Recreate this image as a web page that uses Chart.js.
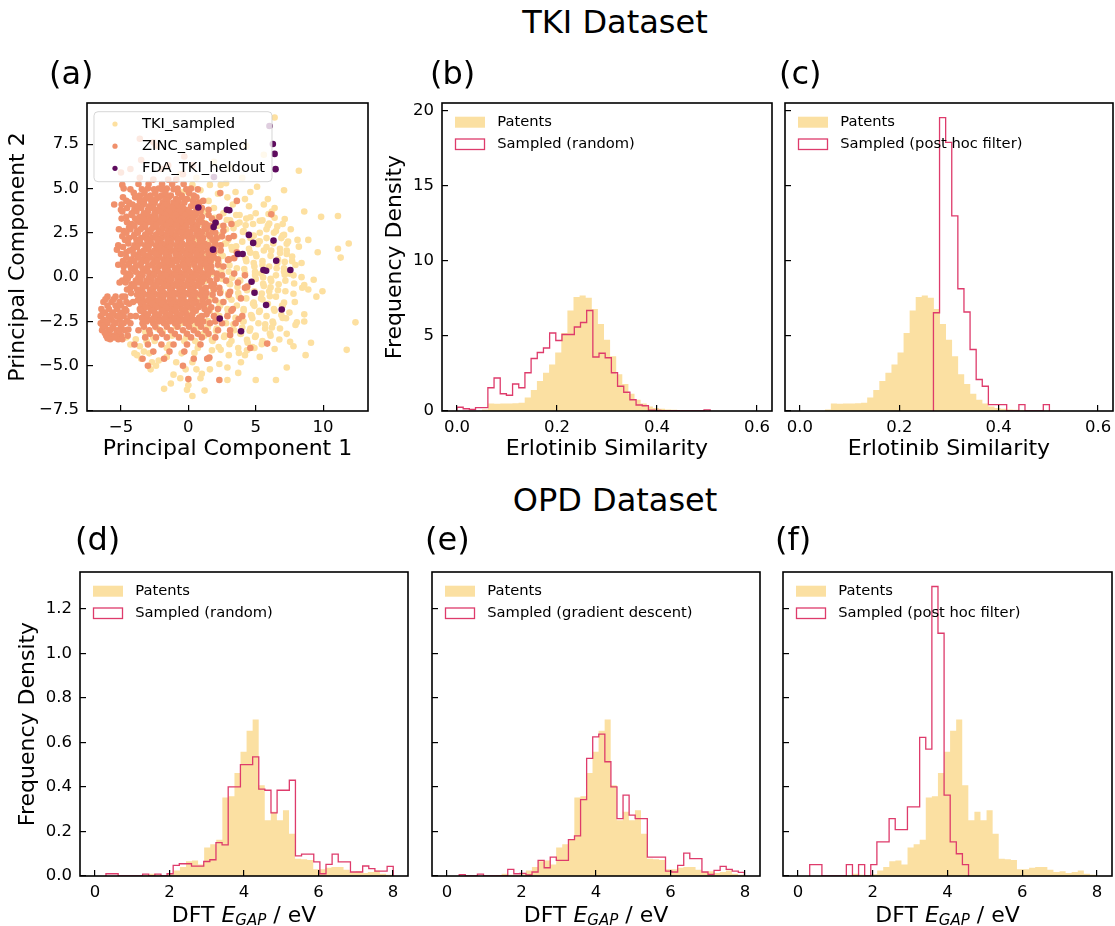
<!DOCTYPE html>
<html><head><meta charset="utf-8">
<script src="https://cdn.jsdelivr.net/npm/chart.js@4.4.1/dist/chart.umd.min.js"></script>
<style>
html,body{margin:0;padding:0;background:#fff;overflow:hidden;width:1115px;height:926px;}
body{position:relative;font-family:'DejaVu Sans',sans-serif;}
canvas{position:absolute;}
.lbl{position:absolute;font-size:32px;line-height:32px;color:#000;white-space:nowrap;z-index:5;}
</style></head><body>
<canvas id="ca"></canvas><canvas id="cb"></canvas><canvas id="cc"></canvas>
<canvas id="cd"></canvas><canvas id="ce"></canvas><canvas id="cf"></canvas>
<div class="lbl" style="left:415px;top:6px;width:400px;text-align:center">TKI Dataset</div>
<div class="lbl" style="left:415px;top:484px;width:400px;text-align:center">OPD Dataset</div>
<div class="lbl" style="left:49px;top:57px">(a)</div>
<div class="lbl" style="left:430px;top:57px">(b)</div>
<div class="lbl" style="left:779px;top:57px">(c)</div>
<div class="lbl" style="left:75px;top:523px">(d)</div>
<div class="lbl" style="left:425px;top:523px">(e)</div>
<div class="lbl" style="left:775px;top:523px">(f)</div>
<script>
// ---------------- DATA ----------------
// Panel (a): PCA scatter
const tkiSampled = [
[0.3,5.2],[1.6,5.2],[2.8,5.3],[5.1,5.1],[-0.4,4.8],[0.9,4.9],[2.2,4.7],[3.5,4.8],[4.6,4.8],[7.1,4.9],
[0.2,4.4],[1.5,4.3],[2.9,4.5],[4.2,4.4],[5.9,4.4],[-0.9,4.0],[0.7,4.0],[1.9,3.9],[3.3,4.1],[4.5,4.0],[5.6,4.1],[6.4,3.9],
[0.1,3.6],[1.3,3.7],[2.6,3.6],[3.8,3.5],[5.0,3.6],[6.2,3.7],[8.6,3.7],[1.8,3.3],[3.1,3.2],[4.3,3.3],[5.5,3.2],[6.4,3.35],[9.85,3.4],[11.1,3.45],
[0.8,3.0],[2.2,2.9],[3.6,3.0],[4.8,3.0],[5.9,2.9],[7.0,3.0],[1.5,2.6],[2.8,2.7],[4.1,2.6],[5.3,2.5],[6.5,2.6],[7.6,2.7],
[0.9,2.3],[2.2,2.2],[3.4,2.3],[4.7,2.3],[5.8,2.2],[7.0,2.35],[8.1,2.1],[8.9,2.1],[1.6,2.0],[2.8,1.9],[4.0,2.0],[5.2,2.0],[6.3,1.9],[7.4,2.0],
[0.5,1.6],[1.9,1.6],[3.2,1.7],[4.5,1.6],[5.6,1.5],[6.8,1.6],[7.3,1.5],[9.6,1.4],[11.1,1.6],[11.9,1.9],
[1.2,1.3],[2.5,1.2],[3.8,1.3],[5.0,1.3],[6.1,1.2],[7.3,1.3],[0.3,0.9],[1.7,0.9],[3.0,1.0],[4.3,0.9],[5.5,0.9],[6.6,0.8],[7.7,0.9],[8.4,0.8],[11.3,1.1],
[1.0,0.6],[2.3,0.6],[3.6,0.5],[4.9,0.6],[6.0,0.6],[7.1,0.5],[0.5,0.2],[1.8,0.2],[3.0,0.3],[4.2,0.2],[5.4,0.2],[6.5,0.1],[7.5,0.2],[7.8,0.1],
[1.2,-0.1],[2.5,-0.1],[3.8,-0.2],[5.0,-0.1],[6.1,-0.1],[7.2,-0.2],[9.3,-0.15],[0.4,-0.5],[1.8,-0.5],[3.1,-0.4],[4.4,-0.5],[5.6,-0.5],[6.7,-0.4],[8.6,-0.45],[8.9,-0.7],
[1.0,-0.8],[2.4,-0.8],[3.7,-0.9],[4.9,-0.8],[6.0,-0.8],[7.2,-0.8],[9.95,-0.8],[0.3,-1.2],[1.7,-1.2],[3.0,-1.1],[4.3,-1.2],[5.4,-1.2],[6.5,-1.1],[7.9,-1.4],[9.5,-1.1],
[1.0,-1.5],[2.3,-1.5],[3.6,-1.6],[4.8,-1.5],[5.9,-1.5],[7.0,-1.6],[0.2,-1.9],[1.6,-1.9],[2.9,-1.8],[4.1,-1.9],[5.3,-1.9],[6.4,-1.9],[7.5,-2.0],
[0.9,-2.2],[2.3,-2.2],[3.5,-2.3],[4.7,-2.2],[5.8,-2.2],[7.0,-2.3],[8.6,-2.1],[-0.5,-2.6],[1.5,-2.6],[2.8,-2.6],[4.1,-2.5],[5.2,-2.6],[6.3,-2.6],[8.05,-2.55],[8.6,-2.5],[12.4,-2.55],
[0.6,-2.9],[2.1,-2.9],[3.4,-3.0],[4.6,-2.9],[5.7,-2.9],[6.8,-2.9],[-1.2,-3.3],[1.2,-3.3],[2.7,-3.3],[3.9,-3.2],[5.0,-3.3],[6.1,-3.3],[7.3,-3.2],
[-2.5,-3.6],[-0.3,-3.6],[1.8,-3.6],[3.2,-3.6],[4.4,-3.7],[5.5,-3.6],[7.55,-3.65],[9.1,-3.7],[-4.0,-4.3],[-1.6,-4.0],[0.7,-4.0],[2.4,-4.1],[3.7,-4.0],[4.9,-4.0],[6.4,-4.05],[7.8,-3.9],
[-3.3,-4.2],[-2.2,-4.7],[1.5,-4.6],[3.0,-4.4],[4.2,-4.4],[5.3,-4.5],[8.7,-4.4],[11.75,-4.1],[-2.7,-4.8],[0.3,-4.8],[2.3,-4.9],[3.9,-4.8],[7.3,-5.1],
[-2.8,-5.2],[-1.1,-5.5],[1.0,-5.45],[2.9,-5.1],[-0.6,-5.7],[3.7,-5.4],[0.9,-5.7],[2.9,-5.8],[5.0,-5.8],[6.5,-5.8],[-1.8,-6.3],[0.0,-6.1],[1.2,-6.4],[-0.1,-6.35],[0.3,-6.7],
[6.4,9.0],[8.2,6.0],[5.6,6.9],[4.3,7.4],[3.1,6.2],[1.9,6.5],[0.6,5.6],[-0.6,5.8],[2.4,5.2],[4.0,5.6],
[-4.6,-3.4],[-3.6,-3.9],[-2.9,-4.3],[-1.9,-3.1],[-0.9,-2.8],[-0.1,-3.2],[-1.4,-3.8],[-0.5,-4.3],[0.5,-3.6],[-2.3,-2.9],[-3.8,-4.4],[-4.3,-3.8],[-3.1,-3.6],
[0.85,3.52],[1.95,3.35],[3.55,3.5],[4.6,3.38],[5.95,3.56],[1.2,3.05],[2.85,3.22],[3.8,3.08],[5.3,3.18],[6.0,3.02],[7.15,3.28],
[0.55,2.7],[1.7,2.9],[3.35,2.75],[4.25,2.92],[5.8,2.7],[6.6,2.86],[1.3,2.52],[2.3,2.36],[4.05,2.55],[4.85,2.34],[6.35,2.5],[7.1,2.38],
[0.45,2.06],[2.1,2.24],[2.95,2.1],[4.6,2.2],[5.3,2.02],[6.9,2.2],[1.05,1.72],[2.7,1.9],[3.55,1.74],[5.15,1.86],[5.8,1.7],[7.3,1.88],[8.2,1.72],
[0.65,1.52],[2.35,1.36],[3.25,1.55],[4.6,1.38],[6.15,1.5],[6.8,1.36],[1.7,1.02],[2.55,1.2],[4.25,1.04],[5.05,1.18],[6.65,1.0],[7.7,1.16],
[0.35,0.7],[2.25,0.84],[3.05,0.66],[4.85,0.8],[5.5,0.68],[7.15,0.86],[7.95,0.68],[1.6,0.48],[2.45,0.3],[4.15,0.46],[4.95,0.3],[6.55,0.5],[7.1,0.32],
[0.7,-0.02],[2.45,0.14],[3.25,-0.04],[4.95,0.12],[5.55,-0.02],[7.15,0.14],[8.4,0.0],[1.25,-0.22],[3.05,-0.38],[3.85,-0.2],[5.55,-0.38],[6.15,-0.22],[7.85,-0.36],
[0.95,-0.58],[1.85,-0.74],[3.65,-0.56],[4.35,-0.74],[6.1,-0.58],[6.65,-0.74],[8.45,-0.6],[1.15,-1.08],[2.95,-0.92],[3.75,-1.1],[5.45,-0.92],[6.05,-1.08],[7.8,-0.94],
[0.7,-1.26],[2.45,-1.44],[3.2,-1.28],[4.85,-1.44],[5.5,-1.26],[7.1,-1.44],[1.55,-1.78],[2.35,-1.62],[4.1,-1.8],[4.9,-1.62],[6.35,-1.8],[6.95,-1.62],
[0.3,-1.96],[2.1,-2.14],[2.95,-1.98],[4.65,-2.14],[5.25,-1.96],[6.9,-2.14],[1.45,-2.48],[2.25,-2.32],[4.05,-2.5],[4.75,-2.32],[6.25,-2.5],[7.25,-2.32],
[0.45,-2.66],[1.45,-2.84],[3.35,-2.66],[4.0,-2.84],[5.7,-2.66],[6.2,-2.84],[7.95,-2.7],[1.15,-3.18],[2.05,-3.02],[3.85,-3.2],[4.55,-3.02],[6.05,-3.18],
[-0.15,-3.36],[1.75,-3.54],[2.65,-3.38],[4.35,-3.54],[4.95,-3.38],[6.75,-3.52],[0.75,-3.78],[2.25,-3.94],[3.05,-3.78],[4.75,-3.94],[5.45,-3.78],
[0.45,-4.28],[1.75,-4.12],[3.75,-4.28],[4.35,-4.12],
[-3.5,-4.6],[-2.4,-5.0],[-1.6,-4.5],[-0.9,-4.8],[-0.2,-5.2],[0.6,-5.2],[1.6,-5.2],[-1.3,-6.0],[-3.9,-3.5],[-3.2,-3.1],[-2.6,-3.4]
];
const zincSampled = [
[-2.6,5.5],[-1.5,5.5],[-0.9,5.5],
[-4.8,5.0],[-3.0,5.0],[-2.2,5.0],[-1.6,5.0],[-0.8,5.0],[0.2,5.0],
[-3.6,4.6],[-2.8,4.6],[-2.0,4.6],[-1.3,4.6],[-0.5,4.6],[0.4,4.6],
[-4.4,4.2],[-3.3,4.2],[-2.5,4.2],[-1.9,4.2],[-1.1,4.2],[-0.3,4.2],[0.8,4.2],
[-5.0,3.8],[-4.0,3.8],[-3.0,3.8],[-2.3,3.8],[-1.6,3.8],[-0.9,3.8],[-0.2,3.8],[0.6,3.8],[1.5,3.8],
[-4.6,3.4],[-3.6,3.4],[-2.8,3.4],[-2.0,3.4],[-1.4,3.4],[-0.7,3.4],[0.0,3.4],[1.0,3.4],[2.3,3.4],
[-4.2,3.0],[-3.3,3.0],[-2.6,3.0],[-1.8,3.0],[-1.1,3.0],[-0.4,3.0],[0.4,3.0],[1.3,3.0],[3.2,3.0],
[-4.8,2.6],[-3.8,2.6],[-3.0,2.6],[-2.2,2.6],[-1.5,2.6],[-0.8,2.6],[-0.1,2.6],[0.8,2.6],[1.8,2.6],[2.6,2.6],
[-4.4,2.2],[-3.5,2.2],[-2.7,2.2],[-2.0,2.2],[-1.2,2.2],[-0.5,2.2],[0.3,2.2],[1.1,2.2],[2.1,2.2],[3.0,2.2],
[-5.2,1.8],[-4.0,1.8],[-3.2,1.8],[-2.4,1.8],[-1.7,1.8],[-0.9,1.8],[-0.1,1.8],[0.7,1.8],[1.5,1.8],[2.4,1.8],
[-4.6,1.4],[-3.6,1.4],[-2.8,1.4],[-2.1,1.4],[-1.4,1.4],[-0.6,1.4],[0.2,1.4],[1.0,1.4],[1.9,1.4],[3.6,1.4],
[-4.2,1.0],[-3.3,1.0],[-2.5,1.0],[-1.8,1.0],[-1.0,1.0],[-0.3,1.0],[0.5,1.0],[1.3,1.0],[2.2,1.0],[3.0,1.0],
[-4.8,0.6],[-3.9,0.6],[-3.0,0.6],[-2.2,0.6],[-1.5,0.6],[-0.7,0.6],[0.0,0.6],[0.9,0.6],[1.7,0.6],[2.6,0.6],
[-4.4,0.2],[-3.5,0.2],[-2.7,0.2],[-1.9,0.2],[-1.1,0.2],[-0.4,0.2],[0.4,0.2],[1.2,0.2],[2.1,0.2],[3.4,0.2],
[-4.9,-0.2],[-3.9,-0.2],[-3.1,-0.2],[-2.3,-0.2],[-1.6,-0.2],[-0.8,-0.2],[0.0,-0.2],[0.8,-0.2],[1.6,-0.2],[2.8,-0.2],
[-4.3,-0.6],[-3.4,-0.6],[-2.6,-0.6],[-1.9,-0.6],[-1.2,-0.6],[-0.4,-0.6],[0.4,-0.6],[1.3,-0.6],[2.3,-0.6],[4.2,-0.6],
[-3.8,-1.0],[-3.0,-1.0],[-2.2,-1.0],[-1.5,-1.0],[-0.7,-1.0],[0.1,-1.0],[0.9,-1.0],[1.8,-1.0],[3.0,-1.0],
[-4.1,-1.4],[-3.3,-1.4],[-2.5,-1.4],[-1.8,-1.4],[-1.0,-1.4],[-0.2,-1.4],[0.6,-1.4],[1.5,-1.4],[2.6,-1.4],
[-3.6,-1.8],[-2.8,-1.8],[-2.0,-1.8],[-1.3,-1.8],[-0.5,-1.8],[0.3,-1.8],[1.2,-1.8],[2.2,-1.8],[3.3,-1.8],
[-3.9,-2.2],[-3.1,-2.2],[-2.3,-2.2],[-1.5,-2.2],[-0.8,-2.2],[0.1,-2.2],[1.0,-2.2],[1.9,-2.2],[2.9,-2.2],[4.0,-2.2],
[-3.4,-2.6],[-2.6,-2.6],[-1.8,-2.6],[-1.0,-2.6],[-0.2,-2.6],[0.7,-2.6],[1.6,-2.6],[2.5,-2.6],[3.5,-2.6],
[-3.7,-3.0],[-2.9,-3.0],[-2.1,-3.0],[-1.3,-3.0],[-0.4,-3.0],[0.4,-3.0],[1.3,-3.0],[2.2,-3.0],[3.1,-3.0],
[-3.2,-3.4],[-2.4,-3.4],[-1.6,-3.4],[-0.7,-3.4],[0.2,-3.4],[1.0,-3.4],[2.0,-3.4],
[-4.0,-3.8],[-3.0,-3.8],[-2.0,-3.8],[-1.1,-3.8],[-0.1,-3.8],[0.9,-3.8],
[-2.6,-4.2],[-1.4,-4.2],[-0.3,-4.2],[-3.4,-4.6],[-1.8,-4.6],[0.4,-4.6],[1.4,-4.6],[-3.0,-5.0],[-0.4,-5.0],
[-3.2,4.4],[-2.4,4.4],[-1.7,4.4],[-0.9,4.4],[-0.1,4.4],
[-3.8,4.0],[-2.9,4.0],[-2.1,4.0],[-1.4,4.0],[-0.6,4.0],[0.2,4.0],
[-4.2,3.6],[-3.3,3.6],[-2.5,3.6],[-1.8,3.6],[-1.1,3.6],[-0.4,3.6],[0.3,3.6],
[-3.8,3.2],[-3.0,3.2],[-2.3,3.2],[-1.5,3.2],[-0.8,3.2],[-0.1,3.2],[0.8,3.2],
[-4.4,2.8],[-3.4,2.8],[-2.6,2.8],[-1.9,2.8],[-1.2,2.8],[-0.5,2.8],[0.3,2.8],[1.2,2.8],
[-4.0,2.4],[-3.2,2.4],[-2.4,2.4],[-1.7,2.4],[-1.0,2.4],[-0.2,2.4],[0.6,2.4],[1.5,2.4],
[-3.7,2.0],[-2.9,2.0],[-2.1,2.0],[-1.4,2.0],[-0.6,2.0],[0.1,2.0],[0.9,2.0],
[-4.1,1.6],[-3.0,1.6],[-2.3,1.6],[-1.6,1.6],[-0.8,1.6],[0.0,1.6],[0.7,1.6],
[-3.8,1.2],[-3.0,1.2],[-2.2,1.2],[-1.6,1.2],[-0.8,1.2],[0.0,1.2],[0.8,1.2],[1.6,1.2],
[-4.4,0.8],[-3.5,0.8],[-2.6,0.8],[-1.8,0.8],[-1.2,0.8],[-0.4,0.8],[0.4,0.8],[1.2,0.8],
[-4.0,0.4],[-3.2,0.4],[-2.4,0.4],[-1.6,0.4],[-0.9,0.4],[-0.1,0.4],[0.7,0.4],[1.5,0.4],
[-4.6,0.0],[-3.7,0.0],[-2.9,0.0],[-2.1,0.0],[-1.3,0.0],[-0.6,0.0],[0.2,0.0],[1.0,0.0],
[-4.2,-0.4],[-3.4,-0.4],[-2.6,-0.4],[-1.8,-0.4],[-1.0,-0.4],[-0.2,-0.4],[0.6,-0.4],[1.9,-0.4],
[-3.6,-0.8],[-2.8,-0.8],[-2.0,-0.8],[-1.3,-0.8],[-0.5,-0.8],[0.3,-0.8],[1.1,-0.8],
[-3.4,-1.2],[-2.6,-1.2],[-1.9,-1.2],[-1.1,-1.2],[-0.4,-1.2],[0.4,-1.2],
[-2.9,-1.6],[-2.2,-1.6],[-1.5,-1.6],[-0.8,-1.6],[0.0,-1.6],[0.9,-1.6],
[-3.3,-2.0],[-2.5,-2.0],[-1.7,-2.0],[-0.9,-2.0],[-0.2,-2.0],
[-2.8,-2.4],[-2.0,-2.4],[-1.3,-2.4],[-0.5,-2.4],[0.4,-2.4],
[-6.0,-1.1],[-5.4,-1.1],[-4.9,-1.1],[-6.3,-1.4],[-5.7,-1.4],[-5.1,-1.4],[-4.6,-1.4],
[-6.45,-1.8],[-5.9,-1.8],[-5.3,-1.8],[-4.7,-1.8],[-6.5,-2.2],[-5.9,-2.2],[-5.3,-2.2],[-4.8,-2.2],[-4.3,-2.2],
[-6.5,-2.6],[-6.0,-2.6],[-5.4,-2.6],[-4.8,-2.6],[-4.3,-2.6],[-6.4,-3.0],[-5.9,-3.0],[-5.3,-3.0],[-4.7,-3.0],
[-6.1,-3.3],[-5.6,-3.3],[-5.0,-3.3],[-4.5,-3.3],[-5.8,-3.5],[-5.2,-3.5],
[-6.2,-2.0],[-5.6,-2.0],[-5.0,-2.0],[-6.2,-2.8],[-5.6,-2.8],[-5.0,-2.8],[-6.0,-1.6],[-5.4,-1.6],
[-5.9,-3.2],[-5.3,-3.2],[-6.3,-2.4],[-5.7,-2.4],[-5.1,-2.4],
[-6.15,-1.25],[-5.55,-1.25],[-5.0,-1.6],[-6.35,-2.05],[-5.75,-2.15],[-5.15,-2.15],[-4.55,-2.45],[-6.1,-2.5],
[-5.5,-2.55],[-4.95,-2.65],[-6.35,-2.75],[-5.75,-2.95],[-5.1,-3.05],[-4.45,-2.95],[-6.2,-3.15],[-5.5,-3.4],
[-4.9,-3.5],[-6.0,-3.45],[-4.6,-1.9],[-4.4,-1.5],
[3.6,4.3],[6.15,3.54],[3.36,2.32],[2.94,0.97],[3.68,-0.3],[4.35,-0.55],[3.1,-0.83],[3.9,-1.2],[3.73,-2.36],
[3.1,-3.26],[4.6,-4.0],[5.85,-3.75],[2.37,4.74],[3.4,1.07],[2.3,-5.8],[0.0,-5.75],[1.56,-4.53],[4.2,0.1],[3.2,-1.9],
[-2.6,7.6],[-4.3,6.1],[-4.9,5.2],[-3.5,6.6],[-1.5,6.3],[-0.4,5.8],[-3.6,5.6],[-5.5,4.1],[-5.3,1.55],[-5.2,0.7],
[-5.1,-0.3],[-4.7,-1.1],[-3.6,7.8],[-2.4,7.4],[-0.3,6.8],[-5.0,5.9],[-2.0,6.1],[0.3,6.3],
[-3.7,5.25],[-2.95,5.25],[-1.95,5.25],[-1.2,5.25],[-0.35,5.25],
[-4.3,4.95],[-3.45,4.95],[-2.55,4.95],[-1.95,4.95],[-1.1,4.95],[-0.15,4.95],[0.7,4.95],
[-4.05,4.75],[-3.25,4.75],[-2.45,4.75],[-1.7,4.75],[-0.75,4.75],[0.05,4.75],
[-4.85,4.5],[-3.95,4.5],[-3.0,4.5],[-2.15,4.5],[-1.45,4.5],[-0.45,4.5],[0.6,4.5],
[-4.6,4.3],[-3.6,4.3],[-2.75,4.3],[-1.55,4.3],[-0.75,4.3],[0.35,4.3],[1.1,4.3],
[-4.95,4.1],[-4.15,4.1],[-3.35,4.1],[-2.6,4.1],[-1.75,4.1],[-0.95,4.1],[0.55,4.1],
[-4.55,3.9],[-3.5,3.9],[-2.65,3.9],[-1.95,3.9],[-1.2,3.9],[-0.4,3.9],[1.0,3.9],
[-4.9,3.7],[-3.85,3.7],[-3.0,3.7],[-2.15,3.7],[-1.45,3.7],[-0.7,3.7],[0.05,3.7],[0.9,3.7],
[-4.2,3.5],[-3.2,3.5],[-2.45,3.5],[-1.7,3.5],[-0.95,3.5],[-0.25,3.5],[0.55,3.5],[1.5,3.5],
[-4.95,3.3],[-3.95,3.3],[-3.35,3.3],[-2.55,3.3],[-1.85,3.3],[-1.15,3.3],[-0.5,3.3],[0.35,3.3],[1.75,3.3],
[-4.55,3.1],[-3.6,3.1],[-2.85,3.1],[-2.1,3.1],[-1.35,3.1],[-0.6,3.1],[0.15,3.1],[1.0,3.1],[2.0,3.1],
[-4.0,2.9],[-3.2,2.9],[-2.35,2.9],[-1.6,2.9],[-0.85,2.9],[-0.15,2.9],[0.65,2.9],[1.6,2.9],[2.6,2.9],
[-5.15,2.7],[-4.3,2.7],[-3.55,2.7],[-2.75,2.7],[-1.95,2.7],[-1.2,2.7],[-0.45,2.7],[0.5,2.7],[1.35,2.7],
[-4.6,2.5],[-3.75,2.5],[-2.85,2.5],[-2.05,2.5],[-1.35,2.5],[-0.6,2.5],[0.15,2.5],[1.0,2.5],[2.0,2.5],
[-4.9,2.3],[-4.05,2.3],[-3.15,2.3],[-2.4,2.3],[-1.6,2.3],[-0.9,2.3],[-0.1,2.3],[0.75,2.3],[1.6,2.3],[2.5,2.3],
[-4.7,2.1],[-3.85,2.1],[-3.05,2.1],[-2.3,2.1],[-1.55,2.1],[-0.8,2.1],[0.05,2.1],[0.85,2.1],[1.8,2.1],
[-4.45,1.9],[-3.55,1.9],[-2.75,1.9],[-1.95,1.9],[-1.25,1.9],[-0.45,1.9],[0.35,1.9],[1.2,1.9],[2.0,1.9],
[-4.85,1.7],[-3.8,1.7],[-2.95,1.7],[-2.1,1.7],[-1.35,1.7],[-0.55,1.7],[0.3,1.7],[1.1,1.7],[1.95,1.7],
[-4.35,1.5],[-3.3,1.5],[-2.5,1.5],[-1.8,1.5],[-1.05,1.5],[-0.25,1.5],[0.55,1.5],[1.45,1.5],[2.4,1.5],
[-5.0,1.3],[-4.05,1.3],[-3.35,1.3],[-2.45,1.3],[-1.7,1.3],[-0.95,1.3],[-0.2,1.3],[0.6,1.3],[1.5,1.3],
[-4.6,1.1],[-3.7,1.1],[-2.85,1.1],[-2.15,1.1],[-1.4,1.1],[-0.6,1.1],[0.2,1.1],[1.0,1.1],[1.9,1.1],
[-4.85,0.9],[-4.0,0.9],[-3.1,0.9],[-2.3,0.9],[-1.55,0.9],[-0.85,0.9],[0.0,0.9],[0.85,0.9],[1.65,0.9],
[-4.45,0.7],[-3.6,0.7],[-2.7,0.7],[-1.95,0.7],[-1.2,0.7],[-0.35,0.7],[0.45,0.7],[1.3,0.7],[2.2,0.7],
[-4.25,0.5],[-3.4,0.5],[-2.5,0.5],[-1.75,0.5],[-1.0,0.5],[-0.25,0.5],[0.55,0.5],[1.4,0.5],
[-4.8,0.3],[-3.9,0.3],[-3.0,0.3],[-2.25,0.3],[-1.45,0.3],[-0.7,0.3],[0.1,0.3],[0.9,0.3],[1.75,0.3],
[-4.3,0.1],[-3.4,0.1],[-2.55,0.1],[-1.7,0.1],[-0.95,0.1],[-0.2,0.1],[0.6,0.1],[1.45,0.1],[2.5,0.1],
[-4.5,-0.1],[-3.55,-0.1],[-2.75,-0.1],[-1.95,-0.1],[-1.25,-0.1],[-0.45,-0.1],[0.35,-0.1],[1.15,-0.1],[2.1,-0.1],
[-4.65,-0.3],[-3.75,-0.3],[-2.9,-0.3],[-2.1,-0.3],[-1.35,-0.3],[-0.6,-0.3],[0.2,-0.3],[1.0,-0.3],
[-4.05,-0.5],[-3.15,-0.5],[-2.35,-0.5],[-1.55,-0.5],[-0.8,-0.5],[0.0,-0.5],[0.8,-0.5],[1.7,-0.5],
[-4.55,-0.7],[-3.8,-0.7],[-2.85,-0.7],[-2.1,-0.7],[-1.35,-0.7],[-0.65,-0.7],[0.15,-0.7],[1.0,-0.7],[1.9,-0.7],
[-4.25,-0.9],[-3.35,-0.9],[-2.55,-0.9],[-1.8,-0.9],[-1.0,-0.9],[-0.2,-0.9],[0.55,-0.9],[1.35,-0.9],[2.35,-0.9],
[-3.55,-1.1],[-2.7,-1.1],[-1.9,-1.1],[-1.15,-1.1],[-0.35,-1.1],[0.45,-1.1],[1.25,-1.1],
[-3.75,-1.3],[-2.95,-1.3],[-2.2,-1.3],[-1.4,-1.3],[-0.6,-1.3],[0.2,-1.3],[1.05,-1.3],[2.0,-1.3],
[-3.5,-1.5],[-2.7,-1.5],[-1.95,-1.5],[-1.2,-1.5],[-0.45,-1.5],[0.4,-1.5],[1.2,-1.5],
[-3.2,-1.7],[-2.4,-1.7],[-1.65,-1.7],[-0.9,-1.7],[-0.1,-1.7],[0.75,-1.7],[1.7,-1.7],
[-3.55,-1.9],[-2.65,-1.9],[-1.9,-1.9],[-1.05,-1.9],[-0.3,-1.9],[0.55,-1.9],[1.5,-1.9],
[-3.0,-2.1],[-2.15,-2.1],[-1.35,-2.1],[-0.55,-2.1],[0.3,-2.1],[1.35,-2.1],
[-3.45,-2.3],[-2.55,-2.3],[-1.75,-2.3],[-1.0,-2.3],[-0.15,-2.3],[0.8,-2.3],
[-3.1,-2.5],[-2.2,-2.5],[-1.4,-2.5],[-0.7,-2.5],[0.15,-2.5],[1.1,-2.5],[2.0,-2.5],
[-3.3,-2.8],[-2.45,-2.8],[-1.6,-2.8],[-0.8,-2.8],[0.05,-2.8],[0.95,-2.8],
[-2.85,-3.2],[-1.95,-3.2],[-1.0,-3.2],[-0.1,-3.2],[0.7,-3.2],[1.5,-3.2]
];
const fdaHeldout = [
[6.02,8.52],[6.27,7.51],[6.40,6.95],[6.47,6.09],[1.9,5.65],[0.74,3.93],[2.86,3.80],[3.04,3.77],[2.02,3.07],
[1.88,2.83],[4.49,2.38],[4.81,1.93],[6.32,2.06],[1.83,1.55],[3.68,1.30],[4.03,1.30],[6.52,0.92],[5.57,0.40],
[5.77,0.36],[7.57,0.40],[4.69,-0.26],[4.91,-0.88],[5.77,-1.57],[6.93,-1.83],[2.33,-2.34],[3.91,-3.05]
];
const pcaXTicks = [-5, 0, 5, 10];
const pcaYTicks = [-7.5, -5, -2.5, 0, 2.5, 5, 7.5];

// Panels (b),(c): TKI histograms (frequency density)
const tkiPatentsStart = 0.050, tkiPatentsWidth = 0.0122;
const tkiPatents = [0.1,0.5,0.48,0.5,0.5,0.52,0.55,0.9,1.4,2.0,2.55,3.1,3.9,5.2,6.7,7.6,7.7,7.55,6.8,5.8,
  4.75,3.65,2.45,1.8,1.15,0.75,0.5,0.3,0.2,0.15,0.1,0.08,0.07,0.05,0.04,0.03,0.03,0.02,0.02];
const tkiRandomStart = 0.0, tkiRandomWidth = 0.01235;
const tkiRandom = [0.25,0.15,0.1,0.22,0.22,1.55,2.2,1.15,1.05,1.8,1.55,2.55,3.5,3.9,4.2,5.2,4.7,5.1,5.1,5.6,
  5.9,6.7,3.6,3.85,3.55,2.55,1.65,1.25,0.75,0.4,0.35,0.05,0.04,0.03,0.02,0.02,0,0,0,0,0.08];
const tkiPostHocStart = 0.2687, tkiPostHocWidth = 0.01228;
const tkiPostHoc = [6.55,19.55,17.9,13.0,8.15,6.6,4.1,2.1,1.65,0.42,0.42,0.42,0,0,0.42,0,0,0,0.42];
const tkiXTicks = [0, 0.2, 0.4, 0.6];
const tkiYTicks = [0, 5, 10, 15, 20];

// Panels (d),(e),(f): OPD histograms
const opdPatentsStart = 1.305, opdPatentsWidth = 0.1626;
const opdPatents = [0.005,0.01,0.006,0.003,0.008,0.025,0.04,0.066,0.07,0.052,0.128,0.143,0.163,0.352,0.358,
  0.463,0.558,0.652,0.703,0.408,0.25,0.288,0.25,0.295,0.19,0.078,0.075,0.072,0.03,0.03,0.037,0.04,0.04,
  0.028,0.018,0.021,0.013,0.018,0.025,0.01,0.006];
const opdRandomStart = 0.296, opdRandomWidth = 0.164;
const opdRandom = [0.01,0.01,0,0,0,0,0.008,0,0.008,0,0.01,0.048,0.055,0.055,0.044,0.044,0.065,0.073,0.15,0.14,
  0.40,0.40,0.50,0.50,0.535,0.39,0.385,0.283,0.385,0.385,0.43,0.09,0.098,0.098,0.063,0.01,0.052,0.098,0.063,0.063,
  0.018,0.018,0.045,0.033,0.022,0.022,0.043];
const opdGradStart = 0.33, opdGradWidth = 0.1628;
const opdGrad = [0.006,0,0,0.008,0,0,0,0,0.03,0.01,0.012,0.005,0.018,0.07,0.037,0.085,0.07,0.07,0.163,0.18,
  0.343,0.528,0.625,0.637,0.513,0.40,0.258,0.363,0.273,0.258,0.258,0.085,0.085,0.085,0.022,0.018,0.048,0.103,0.078,0.078,
  0.018,0.007,0.025,0.043,0.03,0.022,0.016];
const opdPostHocStart = 0.314, opdPostHocWidth = 0.1634;
const opdPostHoc = [0.051,0.051,0,0,0,0,0.051,0,0.051,0,0.051,0.153,0.153,0.258,0.208,0.208,0.31,0.31,0.622,0.57,
  1.30,1.09,0.363,0.153,0.10,0.051];
const opdXTicks = [0, 2, 4, 6, 8];
const opdYTicks = [0, 0.2, 0.4, 0.6, 0.8, 1.0, 1.2];

// ---------------- STYLE / LAYOUT ----------------
const C_TKI = '#fde0a0', C_ZINC = '#f0906b', C_FDA = '#5e0c5e';
const C_PAT = '#fbe0a2', C_RED = '#de3b6b';
const PT = 30, PR = 20, HX = 60;
Chart.defaults.font.family = 'DejaVu Sans';
Chart.defaults.color = '#000';

const geo = {
  a: {L: 87, T: 103, R: 368, B: 411, wy: 87, ytp: 4.7},
  b: {L: 442, T: 103, R: 772, B: 411, wy: 67, ytp: 7.3},
  c: {L: 785, T: 103, R: 1113, B: 411, wy: 20, ytp: 0},
  d: {L: 80, T: 572, R: 408, B: 876, wy: 80, ytp: 15.3},
  e: {L: 432, T: 572, R: 760, B: 876, wy: 20, ytp: 0},
  f: {L: 783, T: 572, R: 1112, B: 876, wy: 20, ytp: 0}
};

function setupCanvas(id, g) {
  const c = document.getElementById(id);
  const w = g.R - g.L + g.wy + PR, h = g.B - g.T + PT + HX;
  c.width = w; c.height = h;
  c.style.width = w + 'px'; c.style.height = h + 'px';
  c.style.left = (g.L - g.wy) + 'px'; c.style.top = (g.T - PT) + 'px';
  return c;
}

const minus = s => String(s).replace('-', '\u2212');

function xAxis(o) {
  return {
    type: 'linear', position: 'bottom', min: o.min, max: o.max,
    afterBuildTicks: ax => { ax.ticks = o.ticks.map(v => ({value: v})); },
    afterFit: ax => { ax.height = HX; },
    grid: {drawOnChartArea: false, drawTicks: true, tickLength: -6, color: '#000', lineWidth: 1.2, z: 1},
    border: {display: false},
    ticks: {padding: 12.5, maxRotation: 0, minRotation: 0, autoSkip: false, color: '#000',
            font: {size: 16.5}, callback: v => o.fmt(v)},
    title: o.title ? {display: true, text: o.title, color: '#000', font: {size: 22},
                      padding: {top: 0, bottom: 8.9}} : {display: false}
  };
}
function yAxis(o, g) {
  return {
    type: 'linear', position: 'left', min: o.min, max: o.max,
    afterBuildTicks: ax => { ax.ticks = o.ticks.map(v => ({value: v})); },
    afterFit: ax => { ax.width = g.wy; },
    grid: {drawOnChartArea: false, drawTicks: true, tickLength: -6, color: '#000', lineWidth: 1.2, z: 1},
    border: {display: false},
    ticks: {display: o.labels, padding: 14, color: '#000', font: {size: 16.5}, callback: v => o.fmt(v)},
    title: o.title ? {display: true, text: o.title, color: '#000', font: {size: 22},
                      padding: {top: g.ytp, bottom: 0}} : {display: false}
  };
}

const framePlugin = {
  id: 'frame',
  afterDraw(chart) {
    const {ctx, chartArea: a} = chart;
    ctx.save();
    ctx.strokeStyle = '#000'; ctx.lineWidth = 1.6;
    ctx.strokeRect(a.left, a.top, a.right - a.left, a.bottom - a.top);
    ctx.restore();
  }
};

function legendPlugin(spec) {
  return {
    id: 'mplLegend',
    afterDraw(chart) {
      const {ctx, chartArea: a} = chart;
      ctx.save();
      if (spec.frame) {
        const [x0, y0, x1, y1] = spec.frame;
        const x = a.left + x0, y = a.top + y0, w = x1 - x0, h = y1 - y0, r = 4;
        ctx.beginPath();
        ctx.moveTo(x + r, y); ctx.lineTo(x + w - r, y); ctx.arcTo(x + w, y, x + w, y + r, r);
        ctx.lineTo(x + w, y + h - r); ctx.arcTo(x + w, y + h, x + w - r, y + h, r);
        ctx.lineTo(x + r, y + h); ctx.arcTo(x, y + h, x, y + h - r, r);
        ctx.lineTo(x, y + r); ctx.arcTo(x, y, x + r, y, r); ctx.closePath();
        ctx.fillStyle = 'rgba(255,255,255,0.8)'; ctx.fill();
        ctx.strokeStyle = 'rgba(204,204,204,0.8)'; ctx.lineWidth = 1; ctx.stroke();
      }
      ctx.font = '14.7px "DejaVu Sans"';
      ctx.textBaseline = 'middle'; ctx.textAlign = 'left';
      spec.items.forEach(it => {
        const cy = a.top + it.y;
        if (it.kind === 'fill') {
          ctx.fillStyle = it.color; ctx.fillRect(a.left + 13, cy - 5.5, 30, 11);
        } else if (it.kind === 'step') {
          ctx.strokeStyle = it.color; ctx.lineWidth = 1.3; ctx.strokeRect(a.left + 13.5, cy - 5, 29, 10.5);
        } else {
          ctx.fillStyle = it.color; ctx.beginPath(); ctx.arc(a.left + 28, cy, 2.6, 0, Math.PI * 2); ctx.fill();
        }
        ctx.fillStyle = '#000';
        ctx.fillText(it.label, a.left + it.tx, cy);
      });
      ctx.restore();
    }
  };
}

const egapTitlePlugin = {
  id: 'egapTitle',
  afterDraw(chart) {
    const {ctx, chartArea: a} = chart;
    const parts = [
      {t: 'DFT ', f: '22px "DejaVu Sans"', dy: 0},
      {t: 'E', f: 'italic 22px "DejaVu Sans"', dy: 0},
      {t: 'GAP', f: 'italic 15px "DejaVu Sans"', dy: 3},
      {t: ' / eV', f: '22px "DejaVu Sans"', dy: 0}
    ];
    ctx.save();
    ctx.textBaseline = 'alphabetic'; ctx.textAlign = 'left'; ctx.fillStyle = '#000';
    let total = 0;
    parts.forEach(p => { ctx.font = p.f; p.w = ctx.measureText(p.t).width; total += p.w; });
    let x = (a.left + a.right) / 2 - total / 2;
    const y = a.bottom + 46;
    parts.forEach(p => { ctx.font = p.f; ctx.fillText(p.t, x, y + p.dy); x += p.w; });
    ctx.restore();
  }
};

function histPoints(start, width, values) {
  const pts = [{x: start, y: 0}];
  values.forEach((v, i) => pts.push({x: start + i * width, y: v}));
  pts.push({x: start + values.length * width, y: 0});
  return pts;
}

const baseOpts = {
  responsive: false, animation: false, devicePixelRatio: 1, events: [],
  layout: {padding: {left: 0, right: PR, top: PT, bottom: 0}}
};

// ---------------- PANEL (a) ----------------
(function () {
  const g = geo.a;
  const toPts = arr => arr.map(p => ({x: p[0], y: p[1]}));
  new Chart(setupCanvas('ca', g), {
    type: 'scatter',
    data: {datasets: [
      {label: 'FDA_TKI_heldout', data: toPts(fdaHeldout), backgroundColor: C_FDA, pointRadius: 3.3, borderWidth: 0},
      {label: 'ZINC_sampled', data: toPts(zincSampled), backgroundColor: C_ZINC, pointRadius: 3.3, borderWidth: 0},
      {label: 'TKI_sampled', data: toPts(tkiSampled), backgroundColor: C_TKI, pointRadius: 3.3, borderWidth: 0}
    ]},
    options: Object.assign({}, baseOpts, {
      plugins: {legend: {display: false}, tooltip: {enabled: false}},
      scales: {
        x: xAxis({min: -7.52, max: 13.33, ticks: pcaXTicks, fmt: v => minus(v), title: 'Principal Component 1'}),
        y: yAxis({min: -7.55, max: 9.82, ticks: pcaYTicks, fmt: v => minus(v.toFixed(1)), labels: true,
                  title: 'Principal Component 2'}, g)
      }
    }),
    plugins: [legendPlugin({frame: [7, 8.7, 185, 78.7], items: [
      {kind: 'dot', color: C_TKI, label: 'TKI_sampled', y: 21, tx: 55},
      {kind: 'dot', color: C_ZINC, label: 'ZINC_sampled', y: 43.2, tx: 55},
      {kind: 'dot', color: C_FDA, label: 'FDA_TKI_heldout', y: 65.3, tx: 55}
    ]}), framePlugin]
  });
})();

// ---------------- HISTOGRAM PANELS ----------------
function histPanel(id, g, o) {
  const plugins = [legendPlugin({items: [
    {kind: 'fill', color: C_PAT, label: 'Patents', y: 19.2, tx: 55.3},
    {kind: 'step', color: C_RED, label: o.sampledLabel, y: 41, tx: 55.3}
  ]}), framePlugin];
  if (o.egap) plugins.push(egapTitlePlugin);
  new Chart(setupCanvas(id, g), {
    type: 'line',
    data: {datasets: [
      {label: o.sampledLabel, data: histPoints(o.s.start, o.s.width, o.s.values), stepped: true, fill: false,
       borderColor: C_RED, borderWidth: 1.3, backgroundColor: 'rgba(0,0,0,0)', pointRadius: 0, tension: 0},
      {label: 'Patents', data: histPoints(o.p.start, o.p.width, o.p.values), stepped: true, fill: 'origin',
       borderColor: 'rgba(0,0,0,0)', borderWidth: 0, backgroundColor: C_PAT, pointRadius: 0, tension: 0}
    ]},
    options: Object.assign({}, baseOpts, {
      plugins: {legend: {display: false}, tooltip: {enabled: false}},
      scales: {
        x: xAxis({min: o.xmin, max: o.xmax, ticks: o.xticks, fmt: o.xfmt, title: o.xtitle}),
        y: yAxis({min: 0, max: o.ymax, ticks: o.yticks, fmt: o.yfmt, labels: o.ylabels, title: o.ytitle}, g)
      }
    }),
    plugins: plugins
  });
}

const tkiP = {start: tkiPatentsStart, width: tkiPatentsWidth, values: tkiPatents};
const opdP = {start: opdPatentsStart, width: opdPatentsWidth, values: opdPatents};
const tkiCommon = {xmin: -0.03, xmax: 0.63, xticks: tkiXTicks, xfmt: v => v.toFixed(1), xtitle: 'Erlotinib Similarity',
                   ymax: 20.53, yticks: tkiYTicks, yfmt: v => String(v)};
const opdCommon = {xmin: -0.4, xmax: 8.4, xticks: opdXTicks, xfmt: v => String(v), xtitle: null, egap: true,
                   ymax: 1.365, yticks: opdYTicks, yfmt: v => v.toFixed(1)};

histPanel('cb', geo.b, Object.assign({}, tkiCommon, {p: tkiP, sampledLabel: 'Sampled (random)',
  s: {start: tkiRandomStart, width: tkiRandomWidth, values: tkiRandom}, ylabels: true, ytitle: 'Frequency Density'}));
histPanel('cc', geo.c, Object.assign({}, tkiCommon, {p: tkiP, sampledLabel: 'Sampled (post hoc filter)',
  s: {start: tkiPostHocStart, width: tkiPostHocWidth, values: tkiPostHoc}, ylabels: false, ytitle: null}));
histPanel('cd', geo.d, Object.assign({}, opdCommon, {p: opdP, sampledLabel: 'Sampled (random)',
  s: {start: opdRandomStart, width: opdRandomWidth, values: opdRandom}, ylabels: true, ytitle: 'Frequency Density'}));
histPanel('ce', geo.e, Object.assign({}, opdCommon, {p: opdP, sampledLabel: 'Sampled (gradient descent)',
  s: {start: opdGradStart, width: opdGradWidth, values: opdGrad}, ylabels: false, ytitle: null}));
histPanel('cf', geo.f, Object.assign({}, opdCommon, {p: opdP, sampledLabel: 'Sampled (post hoc filter)',
  s: {start: opdPostHocStart, width: opdPostHocWidth, values: opdPostHoc}, ylabels: false, ytitle: null}));
</script>
</body></html>
